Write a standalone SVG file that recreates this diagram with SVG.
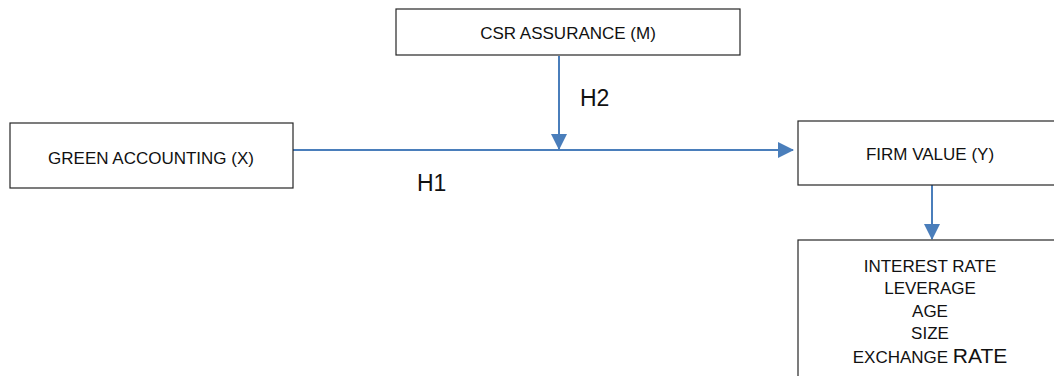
<svg xmlns="http://www.w3.org/2000/svg" width="1054" height="376" viewBox="0 0 1054 376">
<style>
.box{fill:#fff;stroke:#262626;stroke-width:1.2}
.t{font-family:"Liberation Sans",Arial,sans-serif;font-size:17px;fill:#111;text-anchor:middle}
.h{font-family:"Liberation Sans",Arial,sans-serif;font-size:23px;fill:#111}
.c{stroke:#4a7ebb;stroke-width:2;fill:none}
</style>
<defs>
<marker id="ahb" markerWidth="16" markerHeight="16" refX="15" refY="8" orient="auto" markerUnits="userSpaceOnUse" viewBox="0 0 16 16">
<path d="M0,0 L16,8 L0,16 z" fill="#4a7ebb"/>
</marker>
</defs>
<rect width="1054" height="376" fill="#fff"/>
<g id="connectors">
<line class="c" x1="293" y1="150" x2="793" y2="150" marker-end="url(#ahb)"/>
<line class="c" x1="559" y1="56" x2="559" y2="149" marker-end="url(#ahb)"/>
<line class="c" x1="932" y1="185" x2="932" y2="239" marker-end="url(#ahb)"/>
<text class="h" x="580" y="106">H2</text>
<text class="h" x="417" y="191">H1</text>
</g>
<g id="csr">
<rect class="box" x="396" y="9" width="344" height="46"/>
<text class="t" x="568" y="39">CSR ASSURANCE (M)</text>
</g>
<g id="green">
<rect class="box" x="10" y="123" width="283" height="65"/>
<text class="t" x="151" y="164">GREEN ACCOUNTING (X)</text>
</g>
<g id="firm">
<rect class="box" x="798" y="121" width="270" height="64"/>
<text class="t" x="930" y="160">FIRM VALUE (Y)</text>
</g>
<g id="controls">
<rect class="box" x="798" y="240" width="270" height="150"/>
<text class="t" x="930" y="272">INTEREST RATE</text>
<text class="t" x="930" y="294">LEVERAGE</text>
<text class="t" x="930" y="317">AGE</text>
<text class="t" x="930" y="339">SIZE</text>
<text class="t" x="930" y="363">EXCHANGE <tspan font-size="21">RATE</tspan></text>
</g>
</svg>
